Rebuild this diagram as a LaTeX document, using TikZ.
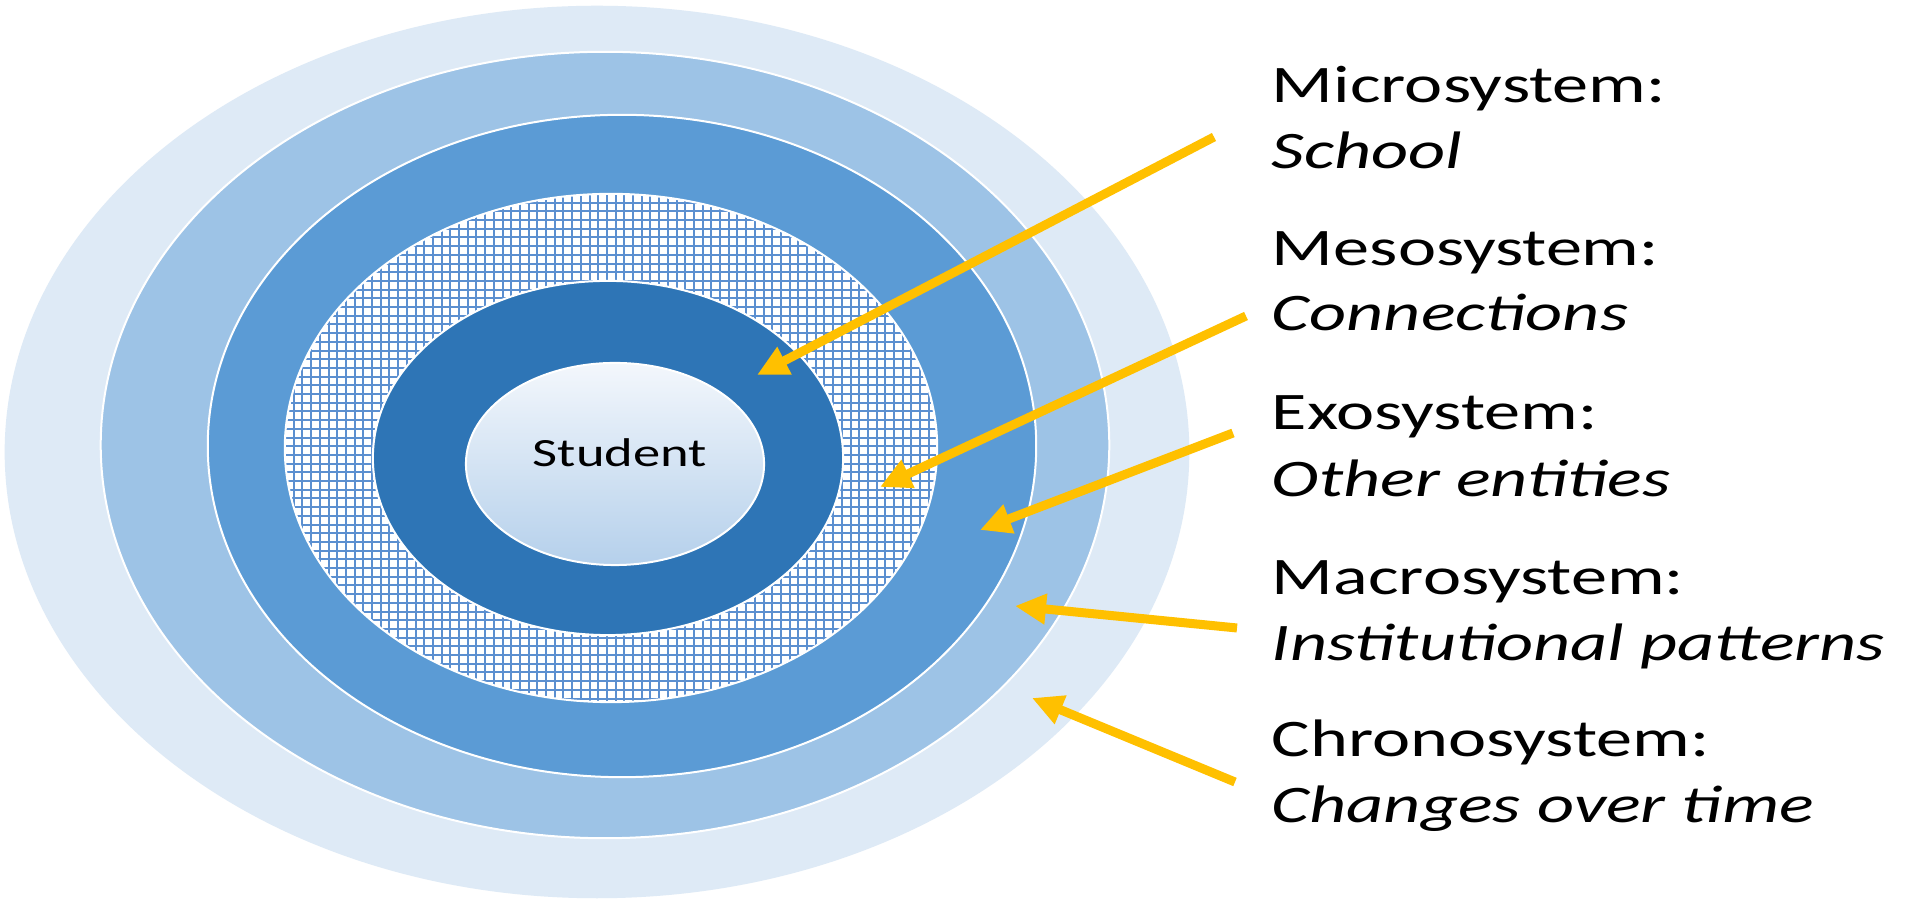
\documentclass[tikz,border=0pt]{standalone}
\usepackage{fontspec}
\setmainfont{Carlito}
\usepackage{xcolor}
\usepackage{tikz}
\usetikzlibrary{arrows.meta}

\definecolor{ringpale}{HTML}{DEEAF6}
\definecolor{ringlight}{HTML}{9DC3E6}
\definecolor{ringmid}{HTML}{5B9BD5}
\definecolor{ringdark}{HTML}{2E75B6}
\definecolor{gridblue}{HTML}{5B8FD0}
\definecolor{centretop}{HTML}{F3F7FC}
\definecolor{centrebot}{HTML}{B5D0EB}
\definecolor{arrowgold}{HTML}{FFC000}

\begin{document}
\begin{tikzpicture}[x=0.01cm, y=-0.01cm,
    ring/.style={draw=white, line width=0.02cm},
    lbl/.style={anchor=base west, inner sep=0pt, font=\fontsize{15}{18}\selectfont, xscale=1.37, transform shape},
    arr/.style={draw=arrowgold, line width=0.09cm, -{Triangle[length=0.31cm, width=0.29cm]}}]
\useasboundingbox (0,0) rectangle (1905,904);
\fill[white] (0,0) rectangle (1905,904);

% Chronosystem ring (outermost)
\fill[ringpale] (597,452) ellipse [x radius=5.92cm, y radius=4.46cm];
% Macrosystem ring
\filldraw[ring, fill=ringlight] (605,445) ellipse [x radius=5.04cm, y radius=3.93cm];
% Exosystem ring
\filldraw[ring, fill=ringmid] (622,446) ellipse [x radius=4.14cm, y radius=3.31cm];

% Mesosystem ring: white with blue grid
\fill[white] (611,448) ellipse [x radius=3.26cm, y radius=2.54cm];
\begin{scope}
  \clip (611,448) ellipse [x radius=3.26cm, y radius=2.54cm];
  \foreach \gx in {285,293.7,...,940}
    \draw[gridblue, line width=0.02cm] (\gx,190) -- (\gx,705);
  \foreach \gy in {194,202.7,...,705}
    \draw[gridblue, line width=0.02cm] (280,\gy) -- (940,\gy);
\end{scope}
\draw[ring] (611,448) ellipse [x radius=3.26cm, y radius=2.54cm];

% Microsystem ring
\filldraw[ring, fill=ringdark] (608,458) ellipse [x radius=2.35cm, y radius=1.77cm];

% Student in the centre
\shade[top color=centretop, bottom color=centrebot] (615,464) ellipse [x radius=1.49cm, y radius=1.01cm];
\draw[ring] (615,464) ellipse [x radius=1.49cm, y radius=1.01cm];
\node[anchor=base, inner sep=0pt, font=\fontsize{11.4}{13}\selectfont, xscale=1.36, transform shape] (student) at (620,467) {Student};

% Labels
\node[lbl] (micro) at (1271,103) {Microsystem:};
\node[lbl] (microsub) at (1271,169) {\textit{School}};
\node[lbl] (meso) at (1271,266) {Mesosystem:};
\node[lbl] (mesosub) at (1271,331) {\textit{Connections}};
\node[lbl] (exo) at (1271,430) {Exosystem:};
\node[lbl] (exosub) at (1271,497) {\textit{Other entities}};
\node[lbl] (macro) at (1271,595) {Macrosystem:};
\node[lbl] (macrosub) at (1271,661) {\textit{Institutional patterns}};
\node[lbl] (chrono) at (1271,757) {Chronosystem:};
\node[lbl] (chronosub) at (1271,823) {\textit{Changes over time}};

% Arrow ends
\coordinate (microtail) at (1214,137);
\coordinate (microtip) at (757,375);
\coordinate (mesotail) at (1246,316);
\coordinate (mesotip) at (880,487);
\coordinate (exotail) at (1233,433);
\coordinate (exotip) at (980,530);
\coordinate (macrotail) at (1237,628);
\coordinate (macrotip) at (1015,606);
\coordinate (chronotail) at (1235,782);
\coordinate (chronotip) at (1032,698);

% Arrows
\draw[arr] (microtail) -- (microtip);
\draw[arr] (mesotail) -- (mesotip);
\draw[arr] (exotail) -- (exotip);
\draw[arr] (macrotail) -- (macrotip);
\draw[arr] (chronotail) -- (chronotip);

\end{tikzpicture}
\end{document}
